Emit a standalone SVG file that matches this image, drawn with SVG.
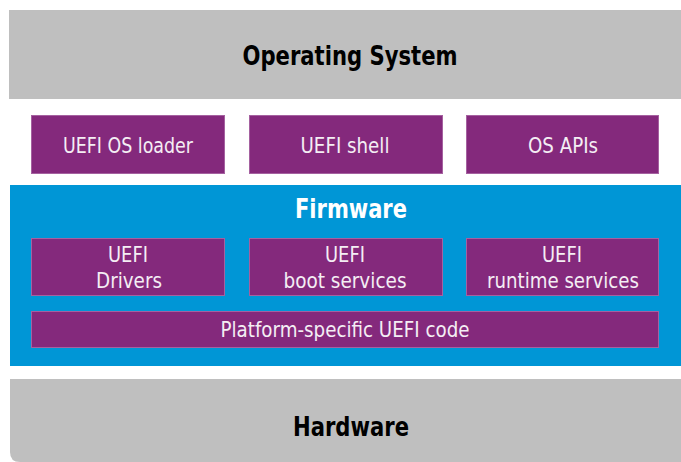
<svg xmlns="http://www.w3.org/2000/svg" width="681" height="462" viewBox="0 0 681 462">
  <style>
    .layer { fill: #bfbfbf; }
    .fw { fill: #0096d6; }
    .box { fill: #84297c; stroke: #a561a0; stroke-width: 1; }
    .head { font-family: "DejaVu Sans Condensed", "DejaVu Sans", sans-serif; font-weight: bold; font-size: 26px; text-anchor: middle; }
    .lbl { font-family: "DejaVu Sans Condensed", "DejaVu Sans", sans-serif; font-size: 22px; fill: #f4eef4; text-anchor: middle; }
  </style>

  <!-- Operating system layer -->
  <g id="os">
    <rect class="layer" x="9" y="10" width="672" height="89"/>
    <text class="head" x="350" y="65" fill="#000" textLength="215" lengthAdjust="spacingAndGlyphs">Operating System</text>
  </g>

  <!-- Components between OS and firmware -->
  <g id="os-loader">
    <rect class="box" x="31.5" y="115.5" width="193" height="58"/>
    <text class="lbl" x="128" y="153" textLength="130" lengthAdjust="spacingAndGlyphs">UEFI OS loader</text>
  </g>
  <g id="shell">
    <rect class="box" x="249.5" y="115.5" width="193" height="58"/>
    <text class="lbl" x="345" y="153" textLength="89" lengthAdjust="spacingAndGlyphs">UEFI shell</text>
  </g>
  <g id="os-apis">
    <rect class="box" x="466.5" y="115.5" width="192" height="58"/>
    <text class="lbl" x="563" y="153" textLength="70" lengthAdjust="spacingAndGlyphs">OS APIs</text>
  </g>

  <!-- Firmware layer -->
  <g id="firmware">
    <rect class="fw" x="10" y="185" width="671" height="181"/>
    <text class="head" x="351" y="218" fill="#fff" textLength="112" lengthAdjust="spacingAndGlyphs">Firmware</text>
  </g>
  <g id="drivers">
    <rect class="box" x="31.5" y="238.5" width="193" height="57"/>
    <text class="lbl" x="128" y="262" textLength="40" lengthAdjust="spacingAndGlyphs">UEFI</text>
    <text class="lbl" x="129" y="288" textLength="66" lengthAdjust="spacingAndGlyphs">Drivers</text>
  </g>
  <g id="boot-services">
    <rect class="box" x="249.5" y="238.5" width="193" height="57"/>
    <text class="lbl" x="345" y="262" textLength="40" lengthAdjust="spacingAndGlyphs">UEFI</text>
    <text class="lbl" x="345" y="288" textLength="123" lengthAdjust="spacingAndGlyphs">boot services</text>
  </g>
  <g id="runtime-services">
    <rect class="box" x="466.5" y="238.5" width="192" height="57"/>
    <text class="lbl" x="562" y="262" textLength="40" lengthAdjust="spacingAndGlyphs">UEFI</text>
    <text class="lbl" x="563" y="288" textLength="152" lengthAdjust="spacingAndGlyphs">runtime services</text>
  </g>
  <g id="platform-code">
    <rect class="box" x="31.5" y="311.5" width="627" height="36"/>
    <text class="lbl" x="345" y="337" textLength="249" lengthAdjust="spacingAndGlyphs">Platform-specific UEFI code</text>
  </g>

  <!-- Hardware layer -->
  <g id="hardware">
    <path class="layer" d="M10 379 H681 V462 H20 Q10 462 10 452 Z"/>
    <text class="head" x="351" y="436" fill="#000" textLength="116" lengthAdjust="spacingAndGlyphs">Hardware</text>
  </g>

  <!-- The layers are stacked with no connectors -->
  <g id="connectors"/>
</svg>
